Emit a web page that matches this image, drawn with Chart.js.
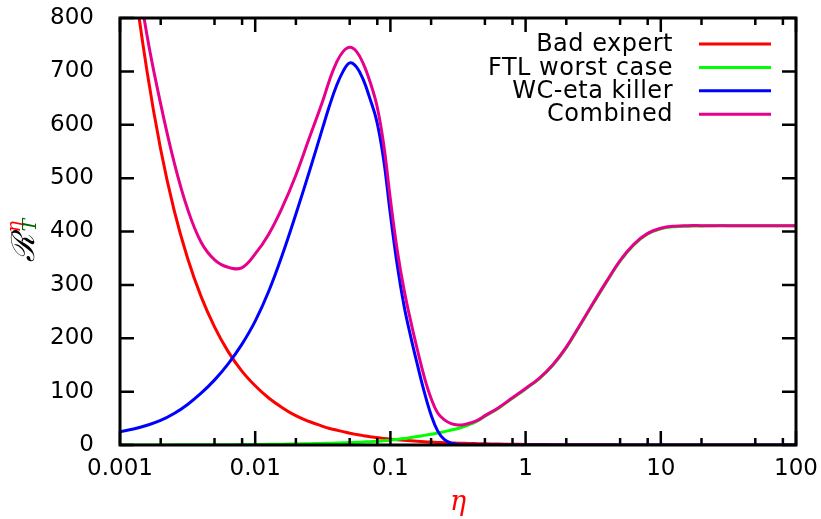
<!DOCTYPE html>
<html>
<head>
<meta charset="utf-8">
<script src="https://cdn.jsdelivr.net/npm/chart.js@4/dist/chart.umd.min.js"></script>
<style>
  body { margin: 0; background: #fff; }
  #wrap { width: 821px; height: 519px; }
</style>
</head>
<body>
<div id="wrap"><canvas id="chart" width="821" height="519"></canvas></div>
<script>
const etas = [
  0.001, 0.001259, 0.001585, 0.001995, 0.002512, 0.003162, 0.003981, 0.005012, 0.00631, 0.007943,
  0.01, 0.01259, 0.01585, 0.01995, 0.02512,
  0.03162, 0.03548, 0.03981, 0.04467, 0.05012, 0.05623, 0.0631, 0.07079, 0.07943, 0.08913,
  0.1, 0.1122, 0.1259, 0.1413, 0.1585, 0.1778, 0.1995, 0.2239, 0.2512, 0.2818,
  0.3162, 0.3548, 0.3981, 0.4467,
  0.5012, 0.631, 0.7943, 1, 1.259, 1.585, 1.995, 2.512, 3.162, 3.981,
  5.012, 6.31, 7.943, 10, 12.59, 15.85, 19.95, 25.12, 31.62, 39.81,
  50.12, 63.1, 79.43, 100
];
const badExpert = [
  1110, 880, 700, 555, 440, 350, 278, 221, 175, 139,
  111, 88, 70, 55, 44,
  35, 31, 28, 25, 22, 19.6, 17.5, 15.6, 14, 12.4,
  11, 9.8, 8.8, 7.8, 7, 6.2, 5.5, 4.9, 4.4, 3.9,
  3.5, 3.1, 2.8, 2.5,
  2.2, 1.7, 1.4, 1.1, 0.9, 0.7, 0.55, 0.44, 0.35, 0.28,
  0.22, 0.17, 0.14, 0.11, 0.09, 0.07, 0.05, 0.04, 0.03, 0.03,
  0.02, 0.02, 0.01, 0.01
];
const ftlWorstCase = [
  0.1, 0.1, 0.15, 0.2, 0.25, 0.3, 0.4, 0.5, 0.6, 0.8,
  1, 1.2, 1.5, 1.9, 2.4,
  3, 3.3, 3.6, 4, 4.5, 5, 5.6, 6.3, 7, 8,
  9, 10.4, 12, 14, 16, 18, 20, 22.5, 25, 28,
  31, 35, 40, 46,
  54, 69, 87, 105, 124, 149, 182, 223, 265, 306,
  345, 375, 395, 405, 409, 410, 410.5, 411, 411, 411,
  411, 411, 411, 411
];
const wcEtaKiller = [
  25, 30, 37, 46, 59, 76, 97, 122, 152, 188,
  232, 288, 356, 432, 512,
  595, 636, 672, 700, 716, 708, 684, 648, 606, 535,
  432, 338, 262, 203, 150, 100, 57, 26, 10, 3.5,
  1.2, 0.5, 0.2, 0.1,
  0, 0, 0, 0, 0, 0, 0, 0, 0, 0,
  0, 0, 0, 0, 0, 0, 0, 0, 0, 0,
  0, 0, 0, 0
];
const combined = [
  1160, 935, 767, 640, 530, 442, 380, 347, 333, 332,
  358, 395, 445, 505, 575,
  645, 684, 716, 737, 745, 737, 714, 680, 636, 564,
  460, 366, 292, 232, 178, 128, 88, 60, 47, 40,
  37.5, 38.5, 42, 47,
  55, 70, 88, 106, 125, 150, 183, 224, 266, 307,
  346, 376, 396, 406, 410, 411, 411, 411, 411, 411,
  411, 411, 411, 411
];

const seriesNames = ['Bad expert', 'FTL worst case', 'WC-eta killer', 'Combined'];
const seriesColors = ['#ff0000', '#00ff00', '#0000ff', '#e6008c'];

const xTicks = [0.001, 0.01, 0.1, 1, 10, 100];
const xTickLabels = ['0.001', '0.01', '0.1', '1', '10', '100'];
const xMinorTicks = [
  0.002, 0.005, 0.008, 0.02, 0.05, 0.08, 0.2, 0.5, 0.8,
  2, 5, 8, 20, 50, 80
];
const yTicks = [0, 100, 200, 300, 400, 500, 600, 700, 800];
const yTickLabels = ['0', '100', '200', '300', '400', '500', '600', '700', '800'];

const FONT = '"DejaVu Sans", sans-serif';

function points(values) {
  return etas.map(function (x, i) { return { x: x, y: values[i] }; });
}

function noPadding(s) {
  s.paddingTop = 0; s.paddingBottom = 0; s.paddingLeft = 0; s.paddingRight = 0;
}

// gnuplot style frame, inward ticks, legend and axis titles
const decorations = {
  id: 'decorations',
  afterDatasetsDraw: function (chart) {
    const ctx = chart.ctx;
    const a = chart.chartArea;
    const xs = chart.scales.x, ys = chart.scales.y;
    ctx.save();
    ctx.strokeStyle = '#000';
    ctx.lineCap = 'butt';

    ctx.lineWidth = 2.5;
    ctx.beginPath();
    xTicks.forEach(function (v) {
      const px = xs.getPixelForValue(v);
      ctx.moveTo(px, a.bottom); ctx.lineTo(px, a.bottom - 14);
      ctx.moveTo(px, a.top); ctx.lineTo(px, a.top + 14);
    });
    xMinorTicks.forEach(function (v) {
      const px = xs.getPixelForValue(v);
      ctx.moveTo(px, a.bottom); ctx.lineTo(px, a.bottom - 7);
      ctx.moveTo(px, a.top); ctx.lineTo(px, a.top + 7);
    });
    yTicks.forEach(function (v) {
      const py = ys.getPixelForValue(v);
      ctx.moveTo(a.left, py); ctx.lineTo(a.left + 14, py);
      ctx.moveTo(a.right, py); ctx.lineTo(a.right - 14, py);
    });
    ctx.stroke();

    ctx.lineWidth = 3;
    ctx.strokeRect(a.left, a.top, a.right - a.left, a.bottom - a.top);

    // legend
    ctx.font = '24px ' + FONT;
    ctx.letterSpacing = '0.5px';
    ctx.textAlign = 'right';
    ctx.textBaseline = 'middle';
    seriesNames.forEach(function (name, i) {
      const y = 44 + i * 23.4;
      ctx.fillStyle = '#000';
      ctx.fillText(name, 673, y + 1);
      ctx.strokeStyle = seriesColors[i];
      ctx.lineWidth = 3;
      ctx.beginPath();
      ctx.moveTo(699, y); ctx.lineTo(771, y);
      ctx.stroke();
    });
    ctx.letterSpacing = '0px';

    // x title
    ctx.fillStyle = '#ff0000';
    ctx.font = 'italic 27px "DejaVu Serif", serif';
    ctx.textAlign = 'center';
    ctx.textBaseline = 'alphabetic';
    ctx.fillText('η', (a.left + a.right) / 2, 510);

    // y title: R_T^eta, rotated
    ctx.translate(34, (a.top + a.bottom) / 2 + 2);
    ctx.rotate(-Math.PI / 2);
    ctx.fillStyle = '#000';
    ctx.font = 'italic 32px "DejaVu Serif", serif';
    ctx.textAlign = 'right';
    ctx.fillText('ℛ', 0, 0);
    ctx.textAlign = 'left';
    ctx.font = 'italic 19px "DejaVu Serif", serif';
    ctx.fillStyle = '#ff0000';
    ctx.fillText('η', 1, -14);
    ctx.fillStyle = '#006400';
    ctx.fillText('T', 2, 2);
    ctx.restore();
  }
};

const order = [4, 3, 2, 1];
new Chart(document.getElementById('chart'), {
  type: 'line',
  data: {
    datasets: [badExpert, ftlWorstCase, wcEtaKiller, combined].map(function (vals, i) {
      return {
        label: seriesNames[i],
        data: points(vals),
        borderColor: seriesColors[i],
        backgroundColor: seriesColors[i],
        borderWidth: 3,
        pointRadius: 0,
        tension: 0.4,
        fill: false,
        order: order[i]
      };
    })
  },
  options: {
    responsive: false,
    animation: false,
    layout: { padding: { left: 0, right: 25, top: 18, bottom: 0 } },
    plugins: { legend: { display: false }, tooltip: { enabled: false } },
    scales: {
      x: {
        type: 'logarithmic',
        min: 0.001,
        max: 100,
        afterBuildTicks: function (s) { s.ticks = xTicks.map(function (v) { return { value: v }; }); },
        afterFit: function (s) { s.height = 74; noPadding(s); },
        grid: { display: false, drawTicks: false },
        border: { display: false },
        ticks: {
          autoSkip: false,
          maxRotation: 0,
          padding: 10,
          color: '#000',
          font: { family: FONT, size: 23 },
          callback: function (v, i) { return xTickLabels[i]; }
        }
      },
      y: {
        type: 'linear',
        min: 0,
        max: 800,
        afterBuildTicks: function (s) { s.ticks = yTicks.map(function (v) { return { value: v }; }); },
        afterFit: function (s) { s.width = 120; noPadding(s); },
        grid: { display: false, drawTicks: false },
        border: { display: false },
        ticks: {
          padding: 26,
          color: '#000',
          font: { family: FONT, size: 23 },
          callback: function (v, i) { return yTickLabels[i]; }
        }
      }
    }
  },
  plugins: [decorations]
});
</script>
</body>
</html>
